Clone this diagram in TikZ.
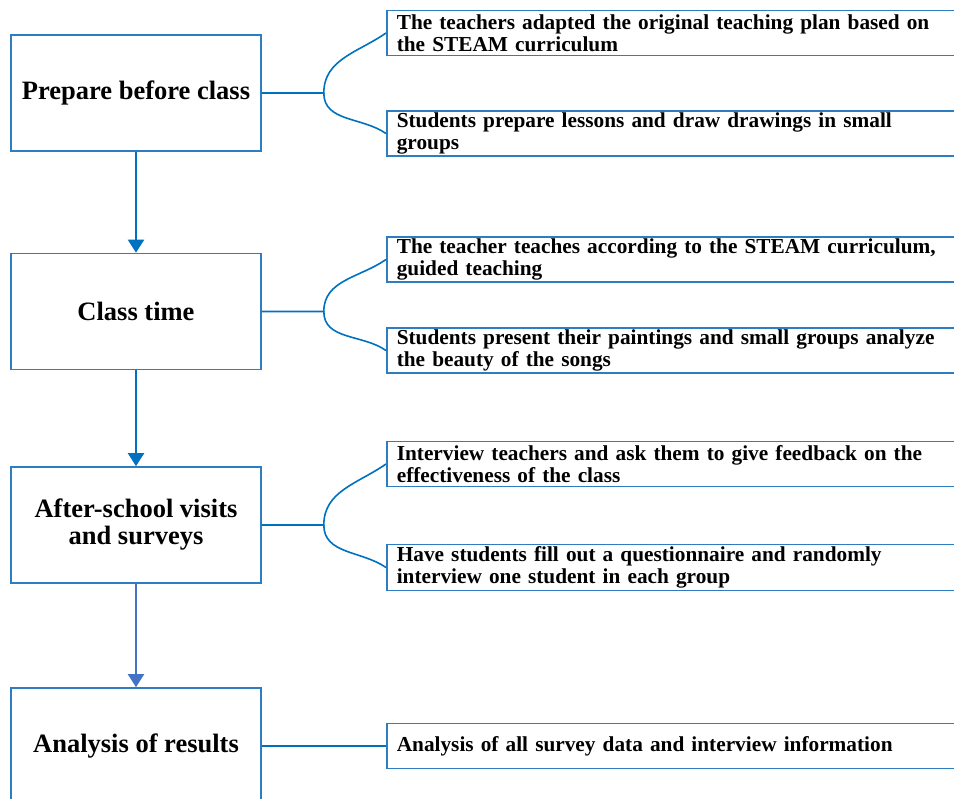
\documentclass[tikz,border=0pt]{standalone}
\usepackage{fontspec}
\setmainfont{Liberation Serif}
\usetikzlibrary{arrows.meta,positioning,calc}
\definecolor{boxblue}{RGB}{46,125,195}
\definecolor{arrblue}{RGB}{0,112,192}
\definecolor{lastblue}{RGB}{68,114,196}

\begin{document}
\begin{tikzpicture}[x=1pt,y=-1pt,
      font=\bfseries,
      stage/.style={draw=boxblue,line width=1.6pt,align=center,
                    minimum width=250pt,minimum height=116pt,
                    font=\fontsize{26.5}{27}\selectfont\bfseries},
      detail/.style={draw=boxblue,line width=1.6pt,anchor=west,align=left,
                     text width=580pt,inner xsep=10pt,inner ysep=2pt,
                     minimum height=45pt,
                     font=\fontsize{21.3}{22}\selectfont\bfseries},
      arr/.style={-{Triangle[length=13pt,width=16pt]},line width=2pt,arrblue},
      link/.style={line width=1.6pt,arrblue}]
    \useasboundingbox (0,0) rectangle (954,799);
    \node[stage] (prep) at (136,93) {Prepare before class};
    \node[stage] (class) at (136,311.5) {Class time};
    \node[stage] (visit) at (136,525) {After-school visits\\and surveys};
    \node[stage] (result) at (136,746) {Analysis of results};
    \node[detail] (plan) at (386,33) {The teachers adapted the original teaching plan based on\\the STEAM curriculum};
    \node[detail] (draw) at (386,133.5) {Students prepare lessons and draw drawings in small\\groups};
    \node[detail] (teach) at (386,259.5) {The teacher teaches according to the STEAM curriculum,\\guided teaching};
    \node[detail] (paint) at (386,350.5) {Students present their paintings and small groups analyze\\the beauty of the songs};
    \node[detail] (ask) at (386,464) {Interview teachers and ask them to give feedback on the\\effectiveness of the class};
    \node[detail] (quest) at (386,567.5) {Have students fill out a questionnaire and randomly\\interview one student in each group};
    \node[detail] (data) at (386,746) {Analysis of all survey data and interview information};
    % split points of the brackets
    \coordinate (s1) at ($(prep.east)+(62,0)$);
    \coordinate (s2) at ($(class.east)+(62,0)$);
    \coordinate (s3) at ($(visit.east)+(62,0)$);
    \draw[arr] (prep)--(class);
    \draw[arr] (class)--(visit);
    \draw[arr,lastblue] (visit)--(result);
    \draw[link] (prep.east)--(s1) to[out=90,in=215] (plan.west);
    \draw[link] (s1) to[out=-90,in=145] (draw.west);
    \draw[link] (class.east)--(s2) to[out=90,in=215] (teach.west);
    \draw[link] (s2) to[out=-90,in=145] (paint.west);
    \draw[link] (visit.east)--(s3) to[out=90,in=215] (ask.west);
    \draw[link] (s3) to[out=-90,in=145] (quest.west);
    \draw[link] (result)--(data);
  \end{tikzpicture}
\end{document}
